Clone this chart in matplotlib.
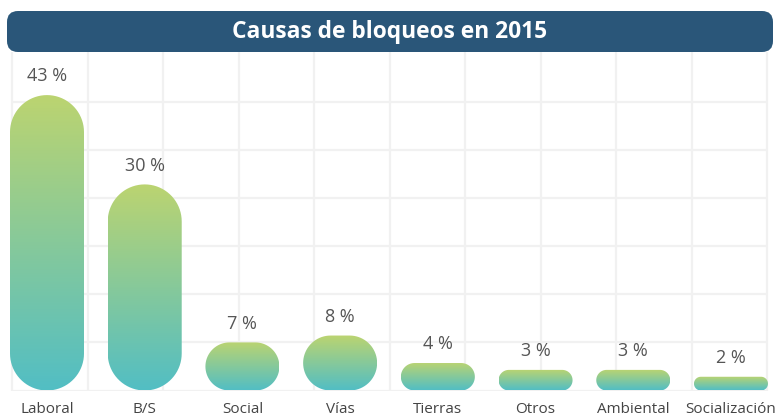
import numpy as np
import matplotlib.pyplot as plt
from matplotlib.patches import FancyBboxPatch, Polygon
from matplotlib.colors import LinearSegmentedColormap

plt.rcParams['font.family'] = ['Open Sans', 'DejaVu Sans']

categorias = ['Laboral', 'B/S', 'Social', 'Vías', 'Tierras', 'Otros', 'Ambiental', 'Socialización']
porcentajes = [43, 30, 7, 8, 4, 3, 3, 2]
titulo = 'Causas de bloqueos en 2015'

W, H, DPI = 780, 416, 100
fig = plt.figure(figsize=(W / DPI, H / DPI), dpi=DPI)

# plot area in pixels (from top): baseline at 390.5, top under the title box
base_px, top_px = 390.5, 52
px_per_pct = 6.87
px_per_cat = 97.71
ax = fig.add_axes([0, (H - base_px) / H, 1, (base_px - top_px) / H])
for s in ax.spines.values():
    s.set_visible(False)
ax.set_xlim(-47 / px_per_cat, (W - 47) / px_per_cat)
ax.set_ylim(0, (base_px - top_px) / px_per_pct)

# background grid
grid_c = '#f1f1f1'
gx = (np.linspace(12, 767, 11) - 47) / px_per_cat
gy = np.arange(0, 49, 7)
ax.hlines(gy, gx[0], gx[-1], color=grid_c, lw=1.6, zorder=0)
ax.vlines(gx, 0, ax.get_ylim()[1], color=grid_c, lw=1.6, zorder=0)

cmap = LinearSegmentedColormap.from_list('bar', ['#52bec4', '#bcd470'])
grad = np.linspace(0, 1, 256).reshape(-1, 1)


def pill(w, h):
    """Rounded bar outline in pixels, centred on x=0, from y=0 to y=h."""
    r = min(w, h) / 2
    q = np.linspace(0, np.pi / 2, 20)
    corners = [(w / 2 - r, h - r, q),
               (-w / 2 + r, h - r, q + np.pi / 2),
               (-w / 2 + r, r, q + np.pi),
               (w / 2 - r, r, q + 1.5 * np.pi)]
    return np.concatenate([np.column_stack([cx + r * np.cos(a), cy + r * np.sin(a)])
                           for cx, cy, a in corners])


bar_px = 74
for i, v in enumerate(porcentajes):
    outline = pill(bar_px, v * px_per_pct)
    pts = np.column_stack([i + outline[:, 0] / px_per_cat, outline[:, 1] / px_per_pct])
    poly = Polygon(pts, closed=True, facecolor='none', edgecolor='none', transform=ax.transData)
    ax.add_patch(poly)
    hw = bar_px / 2 / px_per_cat
    im = ax.imshow(grad, cmap=cmap, extent=(i - hw, i + hw, 0, v), origin='lower',
                   aspect='auto', interpolation='bicubic', zorder=2)
    im.set_clip_path(poly)
    ax.annotate(f'{v} %', (i, v), xytext=(0, 7), textcoords='offset points',
                ha='center', va='bottom', fontsize=13, color='#555555')

ax.set_xticks(range(len(categorias)))
ax.set_xticklabels(categorias, fontsize=11, color='#444444')
ax.tick_params(axis='x', length=0, pad=8)
ax.set_yticks([])
ax.set_xlim(-47 / px_per_cat, (W - 47) / px_per_cat)
ax.set_ylim(0, (base_px - top_px) / px_per_pct)

# title banner
tx = fig.add_axes([7 / W, (H - 52) / H, 766 / W, 41 / H])
tx.set_xlim(0, 766)
tx.set_ylim(0, 41)
tx.axis('off')
tx.add_patch(FancyBboxPatch((0, 0), 766, 41, boxstyle='round,pad=0,rounding_size=11',
                            facecolor='#2a5679', edgecolor='none'))
tx.text(383, 20.5, titulo, ha='center', va='center', color='white',
        fontsize=16.4, fontweight='bold')

fig.savefig('out.png', dpi=DPI)
